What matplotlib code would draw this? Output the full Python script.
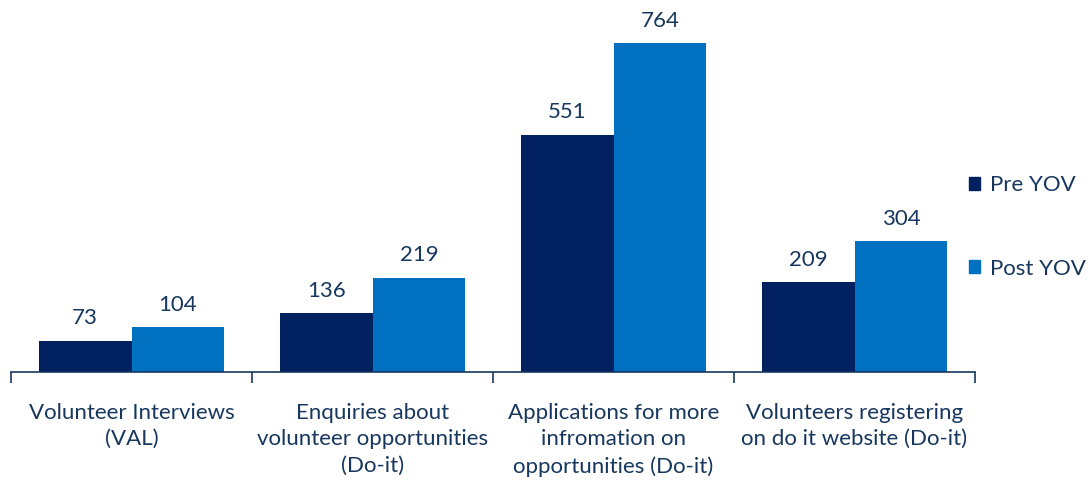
import matplotlib
matplotlib.use("Agg")
import matplotlib.pyplot as plt
import numpy as np
from matplotlib.patches import Patch

categories = [
    "Volunteer Interviews\n(VAL)",
    "Enquiries about\nvolunteer opportunities\n(Do-it)",
    "Applications for more\ninfromation on\nopportunities (Do-it)",
    "Volunteers registering\non do it website (Do-it)",
]
pre_yov = [73, 136, 551, 209]
post_yov = [104, 219, 764, 304]
series_names = ["Pre YOV", "Post YOV"]

PRE_COLOR = "#002060"
POST_COLOR = "#0070C0"
TEXT_COLOR = "#17375E"
FONT = ["Lato", "DejaVu Sans"]

fig = plt.figure(figsize=(10.88, 4.82), dpi=100)
ax = fig.add_axes([11 / 1088, 110 / 482, 964 / 1088, 344 / 482])

x = np.arange(len(categories))
w = 0.385
bars_pre = ax.bar(x - w / 2, pre_yov, w, color=PRE_COLOR, label=series_names[0])
bars_post = ax.bar(x + w / 2, post_yov, w, color=POST_COLOR, label=series_names[1])

for bars in (bars_pre, bars_post):
    for b in bars:
        ax.annotate(f"{int(b.get_height())}",
                    (b.get_x() + b.get_width() / 2, b.get_height()),
                    xytext=(0, 9), textcoords="offset points",
                    ha="center", va="bottom", fontsize=16,
                    color=TEXT_COLOR, family=FONT)

ax.set_xlim(-0.5, len(categories) - 0.5)
ax.set_ylim(0, 799)
ax.set_yticks([])
for s in ("top", "right", "left"):
    ax.spines[s].set_visible(False)
ax.spines["bottom"].set_color(TEXT_COLOR)
ax.spines["bottom"].set_linewidth(1.2)

ax.set_xticks(x)
ax.set_xticklabels(categories, fontsize=16, color=TEXT_COLOR, family=FONT,
                   linespacing=1.42)
ax.tick_params(axis="x", which="major", length=0, pad=22)
ax.set_xticks(np.arange(len(categories) + 1) - 0.5, minor=True)
ax.tick_params(axis="x", which="minor", length=8, width=1.2, color=TEXT_COLOR,
               direction="out")

handles = [Patch(color=PRE_COLOR), Patch(color=POST_COLOR)]
leg = fig.legend(handles, series_names, loc="center left",
                 bbox_to_anchor=(969 / 1088, 1 - 227 / 482), frameon=False,
                 borderpad=0, borderaxespad=0,
                 handlelength=0.5, handleheight=0.5, handletextpad=0.45,
                 labelspacing=2.85, prop={"family": FONT, "size": 16})
for t in leg.get_texts():
    t.set_color(TEXT_COLOR)

fig.savefig("out.png", dpi=100)
